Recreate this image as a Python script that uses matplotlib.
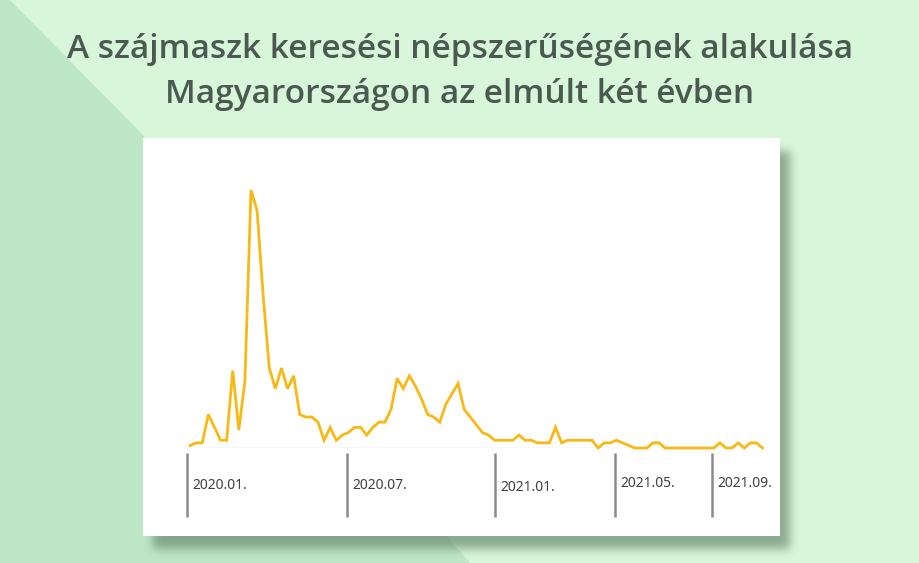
import numpy as np
import matplotlib.pyplot as plt
from matplotlib.patches import Rectangle, Polygon

# weekly search popularity (Google Trends style, 0-100)
popularity = [1, 2, 2, 13, 8, 3, 3, 30, 7, 26,
              100, 92, 59, 31, 23, 31, 23, 28, 13, 12,
              12, 10, 3, 8, 3, 5, 6, 8, 8, 5,
              8, 10, 10, 15, 27, 23, 28, 24, 19, 13,
              12, 10, 17, 21, 25, 15, 12, 9, 6, 5,
              3, 3, 3, 3, 5, 3, 3, 2, 2, 2,
              8, 2, 3, 3, 3, 3, 3, 0, 2, 2,
              3, 2, 1, 0, 0, 0, 2, 2, 0, 0,
              0, 0, 0, 0, 0, 0, 0, 2, 0, 0,
              2, 0, 2, 2, 0]
tick_weeks = [-0.5, 25.8, 50.0, 69.8, 85.7]
tick_labels = ['2020.01.', '2020.07.', '2021.01.', '2021.05.', '2021.09.']

title = ('A szájmaszk keresési népszerűségének alakulása\n'
         'Magyarországon az elmúlt két évben')

W, H = 920, 563
fig = plt.figure(figsize=(W / 100, H / 100), dpi=100)
fig.patch.set_facecolor('#d7f6da')


def fx(x):
    return x / W


def fy(y):
    return 1 - y / H


# darker diagonal band on the left
band = Polygon([(fx(0), fy(0)), (fx(10), fy(0)), (fx(143), fy(135)),
                (fx(447), fy(537)), (fx(470), fy(563)), (fx(0), fy(563))],
               closed=True, transform=fig.transFigure,
               facecolor='#bde6c6', edgecolor='none', zorder=0)
fig.patches.append(band)

# soft blurred shadow behind the card
card_x0, card_y0, card_x1, card_y1 = 143, 138, 780, 536
mask = np.zeros((H, W))
mask[card_y0 + 13:card_y1 + 13, card_x0 + 10:card_x1 + 10] = 1.0
k = 9
kern = np.ones(k) / k
for _ in range(3):
    mask = np.apply_along_axis(lambda r: np.convolve(r, kern, mode='same'), 1, mask)
    mask = np.apply_along_axis(lambda c: np.convolve(c, kern, mode='same'), 0, mask)
shadow = np.zeros((H, W, 4))
shadow[..., 0] = 0.40
shadow[..., 1] = 0.52
shadow[..., 2] = 0.42
shadow[..., 3] = mask * 0.66
fig.figimage(shadow[::-1], xo=0, yo=0, origin='lower', zorder=1)

card = Rectangle((fx(card_x0), fy(card_y1)), (card_x1 - card_x0) / W,
                 (card_y1 - card_y0) / H, transform=fig.transFigure,
                 facecolor='white', edgecolor='none', zorder=2)
fig.patches.append(card)

fig.text(0.5, fy(72), title, ha='center', va='center', fontsize=24,
         fontfamily='Open Sans', fontweight='semibold', color='#4b5951',
         linespacing=1.45, zorder=3)

# plot area
ax = fig.add_axes([fx(187), fy(448), (765 - 187) / W, (448 - 190) / H])
ax.set_zorder(5)
ax.patch.set_alpha(0)
weeks = np.arange(len(popularity))
ax.plot(weeks, popularity, color='#f7b916', lw=2.0, clip_on=False,
        solid_joinstyle='miter')
ax.set_xlim(-0.51, 94.4)
ax.set_ylim(0, 100)
for s in ax.spines.values():
    s.set_visible(False)
ax.set_xticks([])
ax.set_yticks([])
ax.axhline(0, color='#dddddd', lw=1, zorder=0)

trans = ax.get_xaxis_transform()
ax.vlines(tick_weeks, -0.02, -0.267, transform=trans, color='#8c8c8c',
          lw=1.8, clip_on=False)
label_y = [-0.145, -0.145, -0.152, -0.137, -0.137]
for wk, lab, ly in zip(tick_weeks, tick_labels, label_y):
    ax.text(wk + 0.9, ly, lab, transform=trans, ha='left', va='center',
            fontsize=10, fontfamily='Noto Sans', fontweight='medium',
            color='#404040')

fig.savefig('out.png', dpi=100, facecolor=fig.get_facecolor())
